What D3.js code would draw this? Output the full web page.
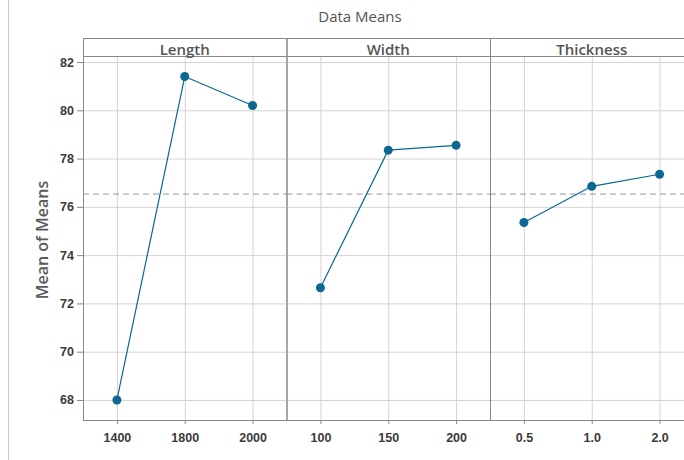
<!DOCTYPE html>
<html>
<head>
<meta charset="utf-8">
<script src="https://cdn.jsdelivr.net/npm/d3@7"></script>
<style>
  body { margin: 0; background: #fff; }
  svg { display: block; font-family: "Open Sans", "Noto Sans", sans-serif; }
</style>
</head>
<body>
<div class="container"></div>
<script>
// panels (factors) and their levels
const factors = ['Length', 'Width', 'Thickness'];
const lengthLevels = ['1400', '1800', '2000'];
const widthLevels = ['100', '150', '200'];
const thicknessLevels = ['0.5', '1.0', '2.0'];
// mean of means per level
const lengthMeans = [68.0, 81.4, 80.2];
const widthMeans = [72.65, 78.35, 78.55];
const thicknessMeans = [75.35, 76.85, 77.35];
const grandMean = 76.53;
const yTicks = [68, 70, 72, 74, 76, 78, 80, 82];

const levels = [lengthLevels, widthLevels, thicknessLevels];
const means = [lengthMeans, widthMeans, thicknessMeans];

const width = 684, height = 460;
const margin = {top: 56, left: 83, bottom: 40};
const panelW = 203.5;
const headerH = 18;
const blue = '#0b6890';

const svg = d3.select('.container')
    .append('svg')
    .attr('width', width)
    .attr('height', height);

// thin gray frame line at the left of the window
svg.append('line')
    .attr('x1', 8.5).attr('x2', 8.5)
    .attr('y1', 0).attr('y2', height)
    .attr('stroke', '#c8c8c8');

svg.append('text')
    .attr('x', 360).attr('y', 22)
    .attr('text-anchor', 'middle')
    .attr('font-size', 15)
    .attr('fill', '#555')
    .text('Data Means');

const y = d3.scaleLinear()
    .domain([67.17, 82.25])
    .range([height - margin.bottom, margin.top]);

// y axis
const yAxis = svg.append('g')
    .attr('transform', `translate(${margin.left},0)`)
    .call(d3.axisLeft(y).tickValues(yTicks).tickSize(6).tickSizeOuter(0));
yAxis.select('.domain').attr('stroke', '#888');
yAxis.selectAll('.tick line').attr('stroke', '#888');
yAxis.selectAll('.tick text')
    .attr('font-size', 12.5)
    .attr('font-weight', 600)
    .attr('fill', '#3a3a3a')
    .attr('x', -9);

svg.append('text')
    .attr('transform', `translate(48,${(margin.top + height - margin.bottom) / 2 + 2}) rotate(-90)`)
    .attr('text-anchor', 'middle')
    .attr('font-size', 16)
    .attr('font-weight', 600)
    .attr('fill', '#5a5a5a')
    .text('Mean of Means');

const line = d3.line();

factors.forEach((f, i) => {
    const x0 = margin.left + i * panelW;
    const x = d3.scalePoint()
        .domain(levels[i])
        .range([x0, x0 + panelW])
        .padding(0.5);
    const g = svg.append('g');

    // grid
    g.selectAll('.hgrid')
        .data(yTicks)
        .enter().append('line')
        .attr('x1', x0).attr('x2', x0 + panelW)
        .attr('y1', d => y(d) + 0.5).attr('y2', d => y(d) + 0.5)
        .attr('stroke', '#d4d4d4');
    g.selectAll('.vgrid')
        .data(levels[i])
        .enter().append('line')
        .attr('x1', d => x(d) + 0.5).attr('x2', d => x(d) + 0.5)
        .attr('y1', margin.top).attr('y2', height - margin.bottom)
        .attr('stroke', '#d4d4d4');

    // grand mean reference
    g.append('line')
        .attr('x1', x0).attr('x2', x0 + panelW)
        .attr('y1', y(grandMean)).attr('y2', y(grandMean))
        .attr('stroke', '#999')
        .attr('stroke-dasharray', '6,4');

    // x axis
    const xAxis = g.append('g')
        .attr('transform', `translate(0,${height - margin.bottom})`)
        .call(d3.axisBottom(x).tickSize(4).tickSizeOuter(0));
    xAxis.select('.domain').attr('stroke', '#888');
    xAxis.selectAll('.tick line').attr('stroke', '#888');
    xAxis.selectAll('.tick text')
        .attr('font-size', 12.5)
        .attr('font-weight', 600)
        .attr('fill', '#3a3a3a')
        .attr('dy', '1.2em');

    // panel border + strip
    g.append('rect')
        .attr('x', x0 + 0.5).attr('y', margin.top - headerH + 0.5)
        .attr('width', panelW).attr('height', height - margin.bottom - margin.top + headerH)
        .attr('fill', 'none')
        .attr('stroke', '#888');
    g.append('line')
        .attr('x1', x0).attr('x2', x0 + panelW)
        .attr('y1', margin.top + 0.5).attr('y2', margin.top + 0.5)
        .attr('stroke', '#888');
    g.append('text')
        .attr('x', x0 + panelW / 2).attr('y', margin.top - 1)
        .attr('text-anchor', 'middle')
        .attr('font-size', 15)
        .attr('font-weight', 600)
        .attr('fill', '#555')
        .text(f);

    const pts = levels[i].map((l, j) => [x(l), y(means[i][j])]);
    g.append('path')
        .attr('d', line(pts))
        .attr('fill', 'none')
        .attr('stroke', blue)
        .attr('stroke-width', 1.2);
    g.selectAll('circle')
        .data(pts)
        .enter().append('circle')
        .attr('cx', d => d[0]).attr('cy', d => d[1])
        .attr('r', 4.5)
        .attr('fill', blue);
});
</script>
</body>
</html>
